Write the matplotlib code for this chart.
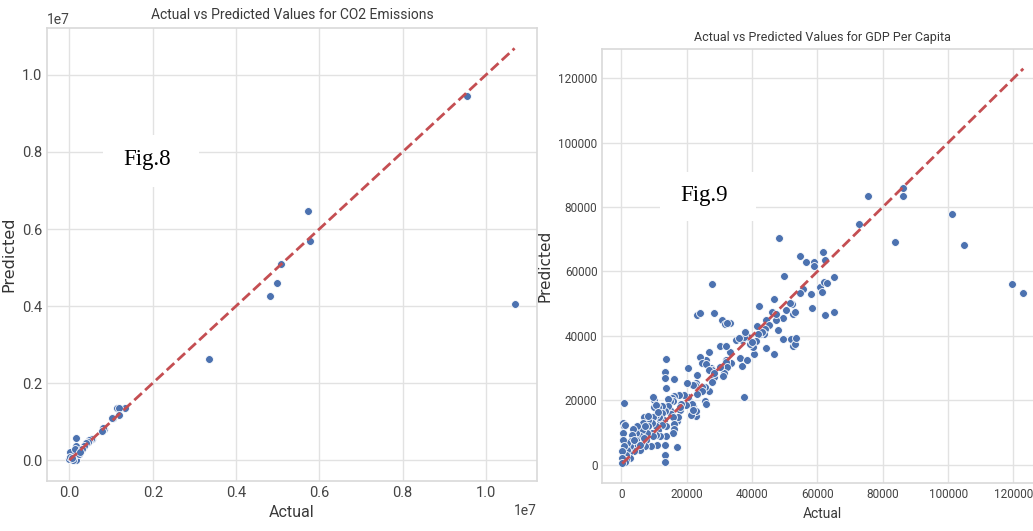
import numpy as np
import matplotlib
matplotlib.use('Agg')
import matplotlib.pyplot as plt
from matplotlib.patches import Rectangle
import seaborn as sns

# CO2 emissions, values in units of 1e7
co2_actual = np.array([0.954, 0.5735, 0.577, 0.509, 0.4975, 0.481, 1.069, 0.334,
                       0.133, 0.115, 0.120, 0.119, 0.1044, 0.102, 0.0835, 0.0804,
                       0.0777, 0.0545, 0.0516, 0.0475, 0.0435, 0.0396, 0.0355, 0.0276,
                       0.0195, 0.0165, 0.0165, 0.0165, 0.0115, 0.0036, 0.0, 0.0074,
                       0.002, 0.013, 0.0235, 0.001, 0.005, 0.031, 0.026]) * 1e7
co2_predicted = np.array([0.945, 0.6476, 0.568, 0.508, 0.461, 0.427, 0.406, 0.263,
                          0.135, 0.1365, 0.1345, 0.117, 0.1085, 0.109, 0.081, 0.0824,
                          0.0757, 0.055, 0.0546, 0.0528, 0.0476, 0.044, 0.0372, 0.0286,
                          0.02, 0.0565, 0.0357, 0.001, 0.0112, 0.0156, 0.0026, 0.0008,
                          0.02, 0.0286, 0.0156, 0.008, 0.005, 0.03, 0.022]) * 1e7

# GDP per capita, in thousands
gdp_actual = np.array([
    48.3, 75.4, 86.2, 86.2, 72.8, 101.2, 83.6, 105.0, 61.6, 54.8, 56.6, 59.1, 59.1, 62.2,
    119.5, 123.0, 49.7, 55.6, 54.8, 57.9, 58.3, 60.9, 61.3, 61.9, 63.0, 65.0, 62.3, 65.2,
    52.1, 52.6, 53.0, 51.7, 50.5, 49.5, 49.5, 51.9, 52.6, 53.1, 53.4, 46.8, 42.1, 46.0,
    47.4, 47.4, 47.9, 46.8, 44.4, 45.2, 44.0, 43.6, 44.2, 42.5, 43.1, 41.5, 41.9, 41.1,
    40.5, 40.3, 38.3, 38.9, 39.3, 39.9, 36.8, 37.4, 38.0, 35.2, 36.0, 36.2, 37.0, 37.6,
    38.5, 33.4, 33.6, 31.9, 32.1, 32.3, 31.3, 30.7, 31.7, 33.4, 32.3, 30.3, 32.1, 30.3,
    31.1, 27.9, 28.3, 23.2, 24.2, 26.8, 25.8, 27.4, 27.8, 24.2, 24.8, 26.0, 26.8, 28.3,
    27.7, 28.3, 26.8, 25.6, 25.6, 25.8, 23.2, 23.0, 23.2, 22.6, 24.8, 24.0, 24.6, 23.2,
    23.0, 21.9, 21.9, 22.2, 22.8, 21.1, 21.5, 20.3, 20.1, 20.3, 19.9, 21.3, 21.9, 19.1,
    18.3, 17.7, 17.9, 16.2, 15.6, 15.8, 16.2, 17.9, 17.0, 17.4, 14.8, 15.0, 15.3, 15.8,
    16.0, 16.0, 15.8, 17.0, 13.8, 13.4, 13.6, 13.4, 14.3, 14.3, 13.4, 13.2, 13.6, 13.6,
    13.4, 13.4, 13.4, 12.3, 12.6, 11.7, 12.3, 11.3, 11.9, 11.3, 11.5, 10.5, 10.5, 10.7,
    10.9, 9.9, 9.9, 9.7, 9.5, 9.3, 9.7, 9.1, 8.3, 8.3, 7.9, 7.7, 7.4, 6.8,
    6.6, 6.2, 5.6, 6.0, 5.6, 4.8, 4.4, 4.6, 4.2, 4.0, 3.6, 3.2, 3.0, 2.6,
    2.3, 2.6, 1.7, 1.7, 1.3, 1.3, 1.0, 0.7, 0.5, 0.7, 0.5, 0.5, 0.7, 0.3,
    0.3, 0.3, 1.1, 9.7, 10.7, 11.1, 7.4, 8.3, 3.8, 5.6, 6.8]) * 1000
gdp_predicted = np.array([
    70.4, 83.4, 85.8, 83.5, 74.6, 77.8, 69.1, 68.1, 66.1, 64.7, 62.8, 62.8, 61.7, 63.5,
    56.2, 53.3, 58.5, 54.4, 53.4, 52.9, 48.7, 55.2, 53.5, 56.6, 56.4, 58.2, 46.6, 47.4,
    49.8, 46.9, 47.4, 50.2, 48.1, 45.4, 39.0, 38.9, 36.8, 37.4, 39.4, 51.4, 49.2, 47.5,
    45.0, 46.9, 41.9, 34.3, 44.8, 43.4, 42.2, 40.7, 36.1, 40.7, 41.1, 43.0, 40.7, 38.5,
    34.5, 36.4, 40.7, 39.7, 37.6, 38.1, 38.7, 39.5, 41.1, 38.7, 39.2, 33.0, 30.7, 21.1,
    32.5, 35.0, 31.4, 32.5, 32.0, 30.4, 28.4, 44.8, 43.8, 44.0, 44.0, 36.8, 36.8, 30.4,
    27.5, 56.2, 47.1, 46.6, 47.1, 35.0, 32.5, 29.9, 29.4, 33.5, 31.6, 31.2, 29.4, 27.1,
    25.5, 28.4, 23.0, 24.2, 19.6, 18.9, 27.8, 25.3, 24.0, 24.8, 24.0, 22.4, 23.0, 22.0,
    15.2, 24.7, 18.2, 17.0, 16.5, 19.3, 18.9, 29.9, 25.3, 20.9, 18.6, 15.4, 17.0, 21.6,
    18.9, 21.5, 17.0, 21.3, 20.6, 19.6, 26.5, 18.0, 13.4, 14.9, 19.6, 17.0, 15.6, 14.9,
    12.7, 11.0, 9.8, 5.5, 32.9, 28.8, 23.7, 26.8, 20.3, 18.2, 16.5, 13.9, 11.9, 8.8,
    6.2, 3.1, 0.7, 18.2, 16.0, 13.9, 12.4, 10.8, 8.8, 18.0, 14.9, 15.5, 11.9, 9.3,
    6.2, 20.1, 18.0, 14.9, 12.9, 9.8, 8.8, 5.7, 13.9, 11.9, 9.8, 7.7, 5.7, 14.9,
    12.9, 10.8, 8.8, 6.7, 4.6, 11.9, 9.8, 7.7, 5.7, 4.1, 11.0, 9.3, 7.2, 5.7,
    3.6, 2.1, 6.7, 4.6, 3.1, 1.5, 0.7, 19.1, 12.9, 11.9, 9.8, 7.7, 5.7, 4.1,
    2.1, 0.5, 12.3, 21.1, 18.6, 16.4, 12.1, 15.0, 7.7, 6.2, 8.2]) * 1000

sns.set_theme(style='whitegrid', color_codes=True)
plt.rcParams['font.family'] = ['Roboto', 'DejaVu Sans']
plt.rcParams['axes.edgecolor'] = '#d9d9d9'
plt.rcParams['grid.color'] = '#e2e2e2'


def draw_panel(ax, actual, predicted, title, tick_fs, title_fs, xlabel_fs, ylabel_fs):
    sns.scatterplot(x=actual, y=predicted, ax=ax, s=32, color='#4C72B0',
                    edgecolor='white', linewidth=0.6)
    lo, hi = actual.min(), actual.max()
    ax.plot([lo, hi], [lo, hi], 'r--', lw=2)
    ax.set_title(title, fontsize=title_fs, color='#3a3a3a')
    ax.set_xlabel('Actual', fontsize=xlabel_fs, color='#3a3a3a')
    ax.set_ylabel('Predicted', fontsize=ylabel_fs, family='DejaVu Sans', color='#333333')
    ax.tick_params(labelsize=tick_fs, colors='#444444', length=0)
    for s in ax.spines.values():
        s.set_linewidth(1.2)


fig = plt.figure(figsize=(10.33, 5.31), dpi=100)
ax1 = fig.add_axes([0.0457, 0.0947, 0.474, 0.853])
ax2 = fig.add_axes([0.583, 0.0898, 0.427, 0.818])

draw_panel(ax1, co2_actual, co2_predicted, 'Actual vs Predicted Values for CO2 Emissions',
           10.5, 10, 11.5, 11.5)
ax1.xaxis.get_offset_text().set_fontsize(10)
ax1.yaxis.get_offset_text().set_fontsize(10)

draw_panel(ax2, gdp_actual, gdp_predicted, 'Actual vs Predicted Values for GDP Per Capita',
           8.5, 9, 10, 11)
ax2.set_xticks([0, 20000, 40000, 60000, 80000, 100000, 120000])
ax2.set_yticks([0, 20000, 40000, 60000, 80000, 100000, 120000])

# white label boxes
for (x0, y0, w, h), (tx, ty), label in [((0.0997, 0.6478, 0.0929, 0.0979), (0.1423, 0.6987), 'Fig.8'),
                                        ((0.6389, 0.5838, 0.0929, 0.0923), (0.682, 0.6318), 'Fig.9')]:
    fig.add_artist(Rectangle((x0, y0), w, h, transform=fig.transFigure,
                             facecolor='white', edgecolor='none', zorder=5))
    fig.text(tx, ty, label, ha='center', va='center', fontsize=16.5,
             family='Liberation Serif', color='black', zorder=6)

fig.savefig('out.png', dpi=100)
